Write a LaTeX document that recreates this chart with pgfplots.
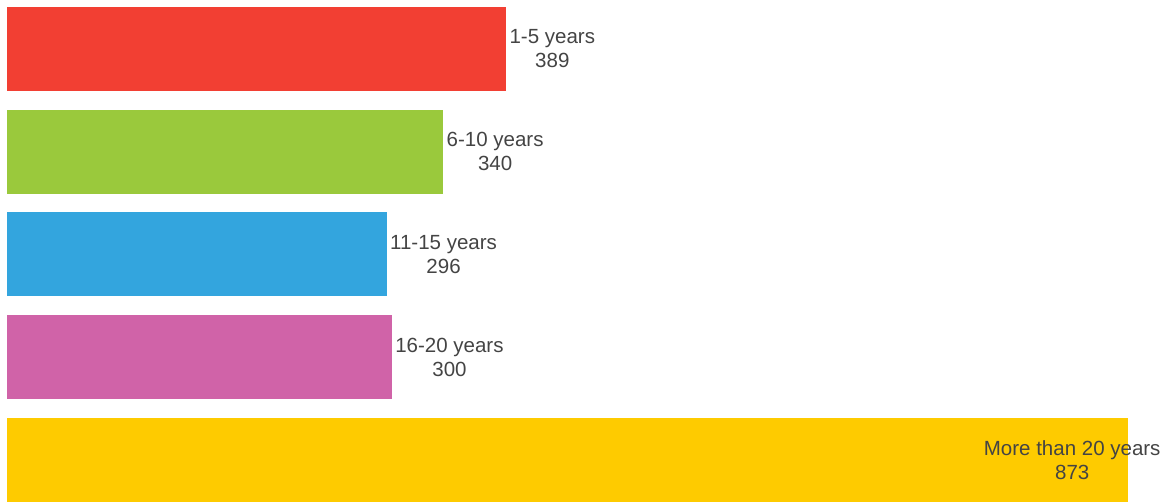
\documentclass[border=0pt]{standalone}
\usepackage{pgfplots}
\pgfplotsset{compat=1.18}
\usepackage{fontspec}
\setmainfont{Liberation Sans}
\definecolor{c1}{HTML}{F23F33}
\definecolor{c2}{HTML}{9AC93C}
\definecolor{c3}{HTML}{33A5DE}
\definecolor{c4}{HTML}{D063A8}
\definecolor{c5}{HTML}{FECB00}
\definecolor{lbl}{HTML}{444444}
\begin{document}
\begin{tikzpicture}
\begin{axis}[
  scale only axis,
  width=1172pt, height=502pt,
  xmin=-5.456, xmax=907.5,
  ymin=-0.477, ymax=4.409,
  y dir=reverse,
  hide axis, clip=false,
  xbar, bar width=84pt, bar shift=0pt,
  point meta=x,
  /pgf/number format/assume math mode=true,
  every node near coord/.append style={font=\fontsize{20.5}{24}\selectfont, text=lbl, align=center, anchor=west, inner sep=0pt, xshift=3pt},
]
\path (rel axis cs:0,0) rectangle (rel axis cs:1,1);
\addplot[fill=c1, draw=none, nodes near coords={1-5 years\\\pgfmathprintnumber{\pgfplotspointmeta}}] coordinates {(389,0)};
\addplot[fill=c2, draw=none, nodes near coords={6-10 years\\\pgfmathprintnumber{\pgfplotspointmeta}}] coordinates {(340,1)};
\addplot[fill=c3, draw=none, nodes near coords={11-15 years\\\pgfmathprintnumber{\pgfplotspointmeta}}] coordinates {(296,2)};
\addplot[fill=c4, draw=none, nodes near coords={16-20 years\\\pgfmathprintnumber{\pgfplotspointmeta}}] coordinates {(300,3)};
\addplot[fill=c5, draw=none, nodes near coords={More than 20 years\\\pgfmathprintnumber{\pgfplotspointmeta}},
  every node near coord/.append style={anchor=east, xshift=30pt}] coordinates {(873,4)};
\end{axis}
\end{tikzpicture}
\end{document}
